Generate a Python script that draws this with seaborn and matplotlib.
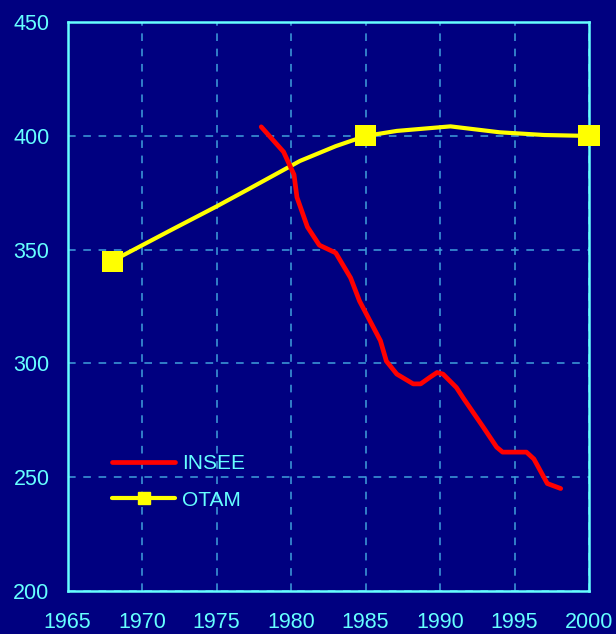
import numpy as np
import pandas as pd
import matplotlib
matplotlib.use("Agg")
import matplotlib.pyplot as plt
from matplotlib.lines import Line2D
import seaborn as sns

# INSEE series
insee_years = [1978.0, 1979.5, 1980.2, 1980.4, 1981.1, 1981.9, 1983.0, 1984.0, 1984.6,
               1986.0, 1986.4, 1987.1, 1988.2, 1988.7, 1989.3, 1989.8, 1990.2, 1991.1,
               1991.6, 1992.9, 1993.8, 1994.2, 1995.8, 1996.3, 1997.2, 1998.1]
insee_values = [404, 393, 383, 373, 360, 352, 348.6, 337.6, 327.4,
                310, 301, 295.3, 291, 291, 293.8, 296, 295.3, 289.4,
                284.4, 272, 263.2, 261, 261, 258, 247.2, 245]

# OTAM series
otam_years = [1968, 1972, 1975, 1977.2, 1980.6, 1983, 1985, 1987.1, 1990.7, 1994, 1997, 2000]
otam_values = [345, 358.8, 369, 376.8, 389, 395.5, 400, 402.2, 404.2, 401.6, 400.4, 400]
otam_marker_years = [1968, 1985, 2000]
otam_marker_values = [345, 400, 400]

x_ticks = [1965, 1970, 1975, 1980, 1985, 1990, 1995, 2000]
y_ticks = [200, 250, 300, 350, 400, 450]

navy = "#000080"
cyan = "#66FFFF"
grid_col = "#3FA0DC"

sns.set_theme(style="dark")
plt.rcParams["font.family"] = ["Liberation Sans", "DejaVu Sans"]

fig = plt.figure(figsize=(6.16, 6.34), dpi=100, facecolor=navy)
ax = fig.add_axes([0.1096, 0.068, 0.8466, 0.897])
ax.set_facecolor(navy)

insee = pd.DataFrame({"year": insee_years, "value": insee_values})
otam = pd.DataFrame({"year": otam_years, "value": otam_values})
otam_pts = pd.DataFrame({"year": otam_marker_years, "value": otam_marker_values})

sns.lineplot(data=otam, x="year", y="value", ax=ax, color="#FFFF00", linewidth=3.0,
             sort=False, zorder=3)
sns.scatterplot(data=otam_pts, x="year", y="value", ax=ax, color="#FFFF00", marker="s",
                s=230, edgecolor="none", zorder=4, clip_on=False)
sns.lineplot(data=insee, x="year", y="value", ax=ax, color="#FF0000", linewidth=3.4,
             sort=False, zorder=5)

ax.set_xlim(1965, 2000)
ax.set_ylim(200, 450)
ax.set_xticks(x_ticks)
ax.set_yticks(y_ticks)
ax.set_xlabel("")
ax.set_ylabel("")
ax.tick_params(colors=cyan, labelsize=15.5, length=0)
ax.tick_params(axis="y", pad=13)
ax.tick_params(axis="x", pad=15)

ax.grid(True, color=grid_col, linestyle=(0, (5, 5)), linewidth=1.1)
for s in ax.spines.values():
    s.set_visible(True)
    s.set_color(cyan)
    s.set_linewidth(1.8)

handles = [
    Line2D([], [], color="#FF0000", linewidth=3.4),
    Line2D([], [], color="#FFFF00", linewidth=3.0, marker="s", markersize=9),
]
leg = ax.legend(handles, ["INSEE", "OTAM"], loc="lower left", bbox_to_anchor=(0.05, 0.11),
                frameon=False, fontsize=15, handlelength=3.0, labelspacing=0.85,
                handletextpad=0.35)
for t in leg.get_texts():
    t.set_color(cyan)

fig.savefig("out.png", dpi=100, facecolor=navy)
